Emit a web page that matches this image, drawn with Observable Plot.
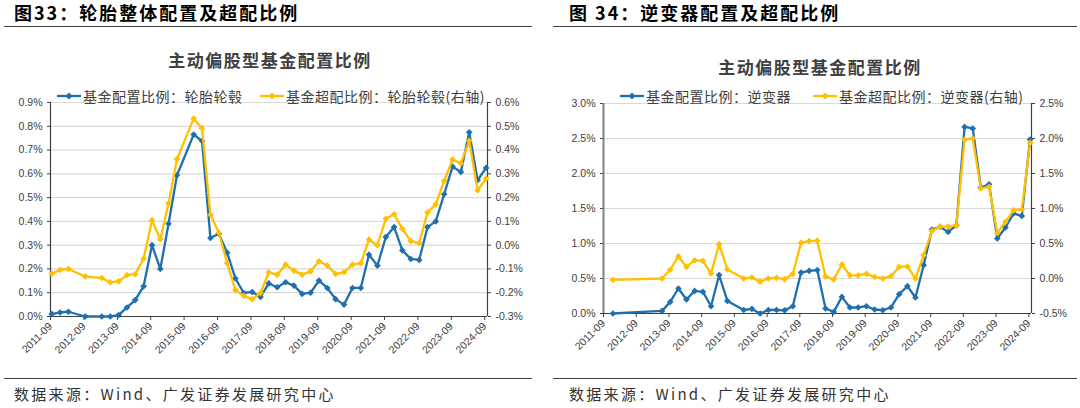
<!DOCTYPE html>
<html><head><meta charset="utf-8">
<script src="https://cdn.jsdelivr.net/npm/d3@7"></script>
<script src="https://cdn.jsdelivr.net/npm/@observablehq/plot@0.6"></script>
<style>
body{margin:0;background:#fff;}
#root{position:relative;width:1080px;height:408px;overflow:hidden;font-family:"Noto Sans CJK SC","Noto Sans",sans-serif;background:#fff;}
.abs{position:absolute;white-space:nowrap;}
.fig{font-size:18px;font-weight:bold;color:#000;letter-spacing:2px;top:1px;line-height:22px;}
.rule{position:absolute;height:0;border-top:1.5px solid #404040;}
.ctitle{font-size:17px;font-weight:bold;color:#404040;letter-spacing:1.5px;transform:translate(-50%,-50%);line-height:20px;}
.leg{font-size:14px;color:#404040;letter-spacing:0.5px;display:flex;align-items:center;top:87px;height:18px;line-height:18px;}
.src{font-size:15px;color:#333;letter-spacing:2.3px;top:384px;line-height:20px;}
</style></head>
<body><div id="root"></div>
<script>
// ---------- data ----------
const tickLabels = ["2011-09","2012-09","2013-09","2014-09","2015-09","2016-09","2017-09","2018-09","2019-09","2020-09","2021-09","2022-09","2023-09","2024-09"];

// Figure 33: tyres (left axis: allocation %, right axis: over-allocation %)
const tireDates = ["2011-09","2011-12","2012-03","2012-09","2013-03","2013-06","2013-09","2013-12","2014-03","2014-06","2014-09","2014-12","2015-03","2015-06","2015-12","2016-03","2016-06","2016-09","2016-12","2017-03","2017-06","2017-09","2017-12","2018-03","2018-06","2018-09","2018-12","2019-03","2019-06","2019-09","2019-12","2020-03","2020-06","2020-09","2020-12","2021-03","2021-06","2021-09","2021-12","2022-03","2022-06","2022-09","2022-12","2023-03","2023-06","2023-09","2023-12","2024-03","2024-06","2024-09"];
const tireAlloc = [0.010,0.017,0.020,0.000,0.000,0.000,0.006,0.038,0.069,0.127,0.300,0.200,0.390,0.594,0.765,0.738,0.330,0.348,0.268,0.160,0.099,0.103,0.082,0.139,0.123,0.144,0.130,0.095,0.100,0.151,0.120,0.073,0.050,0.120,0.120,0.260,0.214,0.334,0.376,0.278,0.242,0.238,0.376,0.400,0.514,0.630,0.608,0.775,0.573,0.625];
const tireOver = [-0.120,-0.104,-0.100,-0.132,-0.138,-0.156,-0.152,-0.126,-0.122,-0.057,0.105,0.025,0.175,0.362,0.532,0.492,0.128,0.052,-0.076,-0.189,-0.213,-0.227,-0.201,-0.114,-0.124,-0.082,-0.107,-0.124,-0.110,-0.068,-0.086,-0.121,-0.114,-0.082,-0.076,0.023,0.000,0.111,0.130,0.069,0.017,0.008,0.137,0.172,0.270,0.360,0.344,0.439,0.231,0.280];
const tireLeftTicks = [0,0.1,0.2,0.3,0.4,0.5,0.6,0.7,0.8,0.9];
const tireRightOffset = 0.3;   // right axis value = left axis value - 0.3

// Figure 34: inverters
const invDates = ["2011-12","2013-06","2013-09","2013-12","2014-03","2014-06","2014-09","2014-12","2015-03","2015-06","2015-12","2016-03","2016-06","2016-09","2016-12","2017-03","2017-06","2017-09","2017-12","2018-03","2018-06","2018-09","2018-12","2019-03","2019-06","2019-09","2019-12","2020-03","2020-06","2020-09","2020-12","2021-03","2021-06","2021-09","2021-12","2022-03","2022-06","2022-09","2022-12","2023-03","2023-06","2023-09","2023-12","2024-03","2024-06","2024-09"];
const invAlloc = [0.000,0.037,0.166,0.357,0.200,0.323,0.309,0.104,0.550,0.180,0.050,0.065,0.000,0.050,0.050,0.045,0.104,0.585,0.610,0.620,0.071,0.023,0.237,0.086,0.086,0.104,0.057,0.047,0.086,0.276,0.390,0.229,0.690,1.200,1.237,1.166,1.260,2.666,2.643,1.800,1.847,1.071,1.229,1.429,1.394,2.486];
const invOver = [-0.020,0.000,0.125,0.315,0.166,0.261,0.251,0.071,0.490,0.129,0.000,0.014,-0.045,0.000,0.010,-0.010,0.065,0.510,0.535,0.540,0.030,-0.014,0.200,0.045,0.047,0.065,0.023,0.000,0.033,0.166,0.172,0.000,0.333,0.680,0.740,0.740,0.760,1.986,2.000,1.286,1.309,0.651,0.809,0.976,0.986,1.937];
const invLeftTicks = [0,0.5,1.0,1.5,2.0,2.5,3.0];
const invRightOffset = 0.5;

const texts = {
  fig33: "图33：轮胎整体配置及超配比例",
  fig34: "图 34：逆变器配置及超配比例",
  chartTitle: "主动偏股型基金配置比例",
  tireAllocName: "基金配置比例：轮胎轮毂",
  tireOverName: "基金超配比例：轮胎轮毂(右轴)",
  invAllocName: "基金配置比例：逆变器",
  invOverName: "基金超配比例：逆变器(右轴)",
  source: "数据来源：Wind、广发证券发展研究中心"
};

const BLUE = "#1f6fae";
const YELLOW = "#ffc000";

// ---------- helpers ----------
const parseMonth = d3.utcParse("%Y-%m");
const toDate = s => d3.utcDay.offset(parseMonth(s), 14);
const xStart = parseMonth("2011-09");
const xEnd = parseMonth("2024-10");
const xTicks = tickLabels.map(parseMonth);
const fmtPct = v => { const r = Math.round(v * 10) / 10; return (r === 0 ? 0 : r).toFixed(1) + "%"; };

const root = document.getElementById("root");
function add(html){ root.insertAdjacentHTML("beforeend", html); }

function chart(o){
  const rows = o.dates.map((d, i) => ({date: toDate(d), alloc: o.alloc[i], over: o.over[i]}));
  const yDom = [o.ticks[0], o.ticks[o.ticks.length - 1]];
  const p = Plot.plot({
    width: o.width, height: o.height,
    marginLeft: o.ml, marginRight: o.mr, marginTop: o.mt, marginBottom: o.mb,
    style: {fontFamily: "'Liberation Sans', Arial, sans-serif", fontSize: "10.5px", color: "#404040", background: "transparent", overflow: "visible"},
    x: {type: "utc", domain: [xStart, xEnd]},
    y: {domain: yDom},
    marks: [
      Plot.ruleY(o.ticks.slice(1), {stroke: "#d9d9d9", strokeWidth: 1.2}),
      Plot.axisY({anchor: "left", ticks: o.ticks, tickFormat: d => fmtPct(d), tickSize: 3, tickPadding: 5, label: null}),
      Plot.axisY({anchor: "right", ticks: o.ticks, tickFormat: d => fmtPct(d - o.offset), tickSize: 3, tickPadding: 5, label: null}),
      Plot.axisX({ticks: xTicks, tickFormat: d3.utcFormat("%Y-%m"), tickRotate: -45, tickSize: 4, tickPadding: 4, label: null, fontSize: 10.5}),
      Plot.ruleX([xStart], {stroke: o.leftAxisColor, strokeWidth: o.leftAxisWidth}),
      Plot.ruleX([xEnd], {stroke: "#404040", strokeWidth: 1.2}),
      Plot.ruleY([yDom[0]], {stroke: "#404040", strokeWidth: 1.2}),
      Plot.line(rows, {x: "date", y: "alloc", stroke: BLUE, strokeWidth: 2.3}),
      Plot.dot(rows, {x: "date", y: "alloc", symbol: "diamond2", r: 3, fill: BLUE, stroke: "none"}),
      Plot.line(rows, {x: "date", y: d => d.over + o.offset, stroke: YELLOW, strokeWidth: 2.3}),
      Plot.dot(rows, {x: "date", y: d => d.over + o.offset, symbol: "diamond2", r: 3, fill: YELLOW, stroke: "none"})
    ]
  });
  p.style.position = "absolute";
  p.style.left = o.left + "px";
  p.style.top = o.top + "px";
  root.appendChild(p);
}

function legendItem(x, color, label){
  return `<div class="abs leg" style="left:${x}px"><svg width="24" height="10" style="overflow:visible"><line x1="0" y1="5" x2="24" y2="5" stroke="${color}" stroke-width="2.3"/><path d="M12,1.5L15.5,5L12,8.5L8.5,5Z" fill="${color}"/></svg><span style="margin-left:2px">${label}</span></div>`;
}

// ---------- page ----------
add(`<div class="abs fig" style="left:14px">${texts.fig33}</div>`);
add(`<div class="abs fig" style="left:569px">${texts.fig34}</div>`);
add(`<div class="rule" style="left:4px;width:528px;top:26px"></div>`);
add(`<div class="rule" style="left:553px;width:524px;top:26px"></div>`);
add(`<div class="abs ctitle" style="left:270px;top:60px">${texts.chartTitle}</div>`);
add(`<div class="abs ctitle" style="left:820px;top:67px">${texts.chartTitle}</div>`);

chart({dates: tireDates, alloc: tireAlloc, over: tireOver, ticks: tireLeftTicks, offset: tireRightOffset,
  left: 0, top: 90, width: 540, height: 280, ml: 50, mr: 53, mt: 12, mb: 54,
  leftAxisColor: "#404040", leftAxisWidth: 1.2});
chart({dates: invDates, alloc: invAlloc, over: invOver, ticks: invLeftTicks, offset: invRightOffset,
  left: 550, top: 90, width: 530, height: 280, ml: 53, mr: 49, mt: 13, mb: 57,
  leftAxisColor: "#7f7f7f", leftAxisWidth: 2});

add(legendItem(57, BLUE, texts.tireAllocName));
add(legendItem(260, YELLOW, texts.tireOverName));
add(legendItem(620, BLUE, texts.invAllocName));
add(legendItem(813, YELLOW, texts.invOverName));

add(`<div class="rule" style="left:4px;width:528px;top:378px"></div>`);
add(`<div class="rule" style="left:553px;width:524px;top:378px"></div>`);
add(`<div class="abs src" style="left:14px">${texts.source}</div>`);
add(`<div class="abs src" style="left:569px">${texts.source}</div>`);
</script>
</body></html>
